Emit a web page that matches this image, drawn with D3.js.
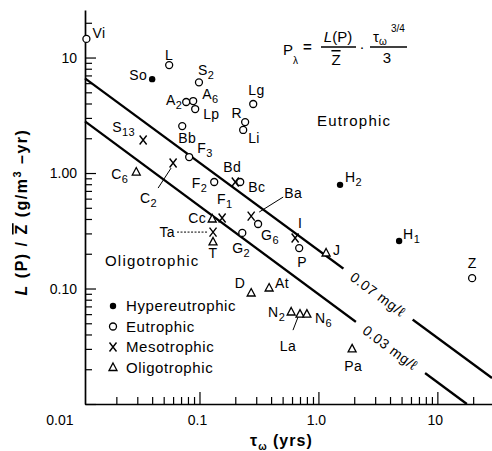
<!DOCTYPE html>
<html>
<head>
<meta charset="utf-8">
<script src="https://cdnjs.cloudflare.com/ajax/libs/d3/7.8.5/d3.min.js"></script>
<style>
body { margin: 0; background: #fff; }
svg text { font-family: "Liberation Sans", Arial, sans-serif; fill: #000; }
</style>
</head>
<body>
<div id="chart"></div>
<script>
// trophic groups, tau_w (yrs) and L(P)/Z (g/m3-yr)
var hyperNames = ["So", "H2", "H1"];
var hyperTau = [0.040, 1.52, 4.77];
var hyperLoad = [6.5, 0.79, 0.258];

var eutroNames = ["Vi", "L", "S2", "A2", "A6", "Lp", "Lg", "R", "Li", "Bb", "F3", "F2", "Bc", "G6", "G2", "P", "Z"];
var eutroTau = [0.0112, 0.0556, 0.099, 0.0773, 0.0885, 0.092, 0.283, 0.242, 0.233, 0.0716, 0.0819, 0.133, 0.22, 0.311, 0.229, 0.689, 19.6];
var eutroLoad = [14.5, 8.6, 6.1, 4.12, 4.2, 3.58, 3.96, 2.76, 2.36, 2.55, 1.375, 0.836, 0.836, 0.362, 0.303, 0.224, 0.123];

var mesoNames = ["S13", "C2", "Bd", "F1", "Ba", "Ta", "I"];
var mesoTau = [0.0336, 0.060, 0.20, 0.155, 0.272, 0.130, 0.637];
var mesoLoad = [1.93, 1.22, 0.836, 0.408, 0.424, 0.308, 0.274];

var oligoNames = ["C6", "Cc", "T", "J", "D", "At", "N2", "La", "N6", "Pa"];
var oligoTau = [0.0294, 0.128, 0.130, 1.16, 0.272, 0.385, 0.59, 0.70, 0.80, 1.92];
var oligoLoad = [1.02, 0.40, 0.253, 0.203, 0.0914, 0.101, 0.0626, 0.060, 0.060, 0.030];

// critical loading lines (end points)
var lineNames = ["0.07 mg/\u2113", "0.03 mg/\u2113"];
var lineTau = [[0.0109, 28.8], [0.0109, 17.7]];
var lineLoad = [[6.6, 0.0168], [2.8, 0.01]];

var legendNames = ["Hypereutrophic", "Eutrophic", "Mesotrophic", "Oligotrophic"];

var xTickVals = [0.01, 0.1, 1, 10];
var xTickLabels = ["0.01", "0.1", "1.0", "10"];
var yTickVals = [0.1, 1, 10];
var yTickLabels = ["0.10", "1.00", "10"];

var width = 492, height = 451;

var svg = d3.select("#chart").append("svg")
  .attr("width", width)
  .attr("height", height);

var x = d3.scaleLog().domain([0.0109, 28.8]).range([85, 492]);
var y = d3.scaleLog().domain([0.01, 25.8]).range([404, 10]);

function isMajor(v) {
  var l = Math.log10(v);
  return Math.abs(l - Math.round(l)) < 1e-6;
}

// axes, ticks pointing inwards
var gx = svg.append("g")
  .attr("transform", "translate(0,404)")
  .call(d3.axisBottom(x).tickValues(x.ticks()).tickSizeInner(-7).tickSizeOuter(0).tickFormat(""));
gx.selectAll(".tick line").attr("y2", function(d) { return isMajor(d) ? -12 : -7; });

var gy = svg.append("g")
  .attr("transform", "translate(85,0)")
  .call(d3.axisLeft(y).tickValues(y.ticks()).tickSizeInner(-7).tickSizeOuter(0).tickFormat(""));
gy.selectAll(".tick line").attr("x2", function(d) { return isMajor(d) ? 11 : 7; });

svg.selectAll(".domain").attr("stroke", "#000").attr("stroke-width", 1.7);
svg.selectAll(".tick line").attr("stroke", "#000").attr("stroke-width", 1.2);

svg.selectAll(".xlab")
  .data(xTickVals)
  .enter().append("text")
  .attr("x", function(d, i) { return i == 0 ? x(d) - 7 : x(d) - 2; })
  .attr("y", 425)
  .attr("text-anchor", function(d, i) { return i == 0 ? "end" : "middle"; })
  .style("font-size", "14px")
  .text(function(d, i) { return xTickLabels[i]; });

svg.selectAll(".ylab")
  .data(yTickVals)
  .enter().append("text")
  .attr("x", 77)
  .attr("y", function(d) { return y(d) + 5; })
  .attr("text-anchor", "end")
  .style("font-size", "14px")
  .text(function(d, i) { return yTickLabels[i]; });

// axis titles
var ylab = svg.append("text")
  .attr("transform", "translate(27,212) rotate(-90)")
  .attr("text-anchor", "middle")
  .style("font-size", "16px")
  .style("font-weight", "bold")
  .style("letter-spacing", "1.5px");
ylab.append("tspan").style("font-style", "italic").text("L");
ylab.append("tspan").text(" (P) / ");
ylab.append("tspan").style("text-decoration", "overline").text("Z");
ylab.append("tspan").text(" (g/m");
ylab.append("tspan").attr("dy", -6).style("font-size", "11px").text("3");
ylab.append("tspan").attr("dy", 6).text(" \u2013yr)");

var xlab = svg.append("text")
  .attr("x", 250)
  .attr("y", 446)
  .style("font-size", "16px")
  .style("font-weight", "bold")
  .style("letter-spacing", "1px");
xlab.append("tspan").text("\u03c4");
xlab.append("tspan").attr("dy", 4).style("font-size", "10px").text("\u03c9");
xlab.append("tspan").attr("dy", -4).text(" (yrs)");

// critical loading lines with a gap for the label
var lineLabelAt = [0.72, 0.80];
lineNames.forEach(function(name, i) {
  var x0 = x(lineTau[i][0]), y0 = y(lineLoad[i][0]);
  var x1 = x(lineTau[i][1]), y1 = y(lineLoad[i][1]);
  svg.append("line")
    .attr("x1", x0).attr("y1", y0)
    .attr("x2", x1).attr("y2", y1)
    .attr("stroke", "#000")
    .attr("stroke-width", 2.3);
  var t = lineLabelAt[i];
  var cx = x0 + (x1 - x0) * t, cy = y0 + (y1 - y0) * t;
  var ang = Math.atan2(y1 - y0, x1 - x0) * 180 / Math.PI;
  var g = svg.append("g").attr("transform", "translate(" + cx + "," + cy + ") rotate(" + ang + ")");
  g.append("rect").attr("x", -43).attr("y", -8).attr("width", 86).attr("height", 16).attr("fill", "#fff");
  g.append("text")
    .attr("text-anchor", "middle")
    .attr("dy", "0.38em")
    .style("font-size", "14px")
    .style("letter-spacing", "0.6px")
    .text(name);
});

// markers
var symbols = {
  hyper: function(g) { g.append("circle").attr("r", 3.2).attr("fill", "#000"); },
  eutro: function(g) { g.append("circle").attr("r", 3.5).attr("fill", "#fff").attr("stroke", "#000").attr("stroke-width", 1.3); },
  meso: function(g) { g.append("path").attr("d", "M-3.5,-4.5L3.5,4.5M3.5,-4.5L-3.5,4.5").attr("stroke", "#000").attr("stroke-width", 1.4).attr("fill", "none"); },
  oligo: function(g) { g.append("path").attr("d", "M0,-4.5L4,3L-4,3Z").attr("stroke", "#000").attr("stroke-width", 1.3).attr("fill", "#fff"); }
};

var labelPos = {
  So: [-5, 1, "end"], H2: [5, -3, "start"], H1: [4, -2, "start"],
  Vi: [6, -1, "start"], L: [0, -5, "middle"], S2: [-1, -7, "start"],
  A2: [-4, 3, "end"], A6: [9, -2, "start"], Lp: [8, 10, "start"],
  Lg: [-5, -9, "start"], R: [-3, -4, "end"], Li: [5, 13, "start"],
  Bb: [-4, 17, "start"], F3: [8, -4, "start"], F2: [-7, 6, "end"],
  Bc: [8, 10, "start"], G6: [3, 16, "start"], G2: [-10, 20, "start"],
  P: [3, 19, "middle"], Z: [0, -10, "middle"],
  S13: [-31, -8, "start"], C2: [-33, 40, "start"], Bd: [-12, -10, "start"],
  F1: [-5, -14, "start"], Ba: [33, -18, "start"], Ta: [-38, 5, "end"], I: [5, -10, "middle"],
  C6: [-8, 7, "end"], Cc: [-6, 4, "end"], T: [0, 16, "middle"], J: [7, 2, "start"],
  D: [-6, -5, "end"], At: [6, 0, "start"], N2: [-6, 5, "end"], La: [-12, 37, "middle"],
  N6: [8, 9, "start"], Pa: [1, 22, "middle"]
};

var leaders = {
  C2: [-2, 5, -15, 25, false],
  Ba: [8, -4, 32, -19, false],
  Ta: [-36, 0, -6, 0, true],
  La: [-7, 16, -2, 3, false]
};

function addLabel(g, name, px, py) {
  var p = labelPos[name];
  var m = name.match(/^([A-Za-z]+)(\d*)$/);
  var t = g.append("text")
    .attr("x", px + p[0])
    .attr("y", py + p[1])
    .attr("text-anchor", p[2])
    .style("font-size", "14px")
    .style("letter-spacing", "0.4px");
  t.append("tspan").text(m[1]);
  if (m[2]) t.append("tspan").attr("dy", 4).style("font-size", "11px").text(m[2]);
  var ld = leaders[name];
  if (ld) {
    g.append("line")
      .attr("x1", px + ld[0]).attr("y1", py + ld[1])
      .attr("x2", px + ld[2]).attr("y2", py + ld[3])
      .attr("stroke", "#000")
      .attr("stroke-width", 1)
      .attr("stroke-dasharray", ld[4] ? "2,1.5" : null);
  }
}

function drawGroup(names, taus, loads, kind) {
  var g = svg.append("g");
  names.forEach(function(name, i) {
    var px = x(taus[i]), py = y(loads[i]);
    var m = g.append("g").attr("transform", "translate(" + px + "," + py + ")");
    symbols[kind](m);
    addLabel(g, name, px, py);
  });
}

drawGroup(hyperNames, hyperTau, hyperLoad, "hyper");
drawGroup(eutroNames, eutroTau, eutroLoad, "eutro");
drawGroup(mesoNames, mesoTau, mesoLoad, "meso");
drawGroup(oligoNames, oligoTau, oligoLoad, "oligo");

// region labels
svg.append("text").attr("x", 317).attr("y", 126)
  .style("font-size", "15px").style("letter-spacing", "1.2px").text("Eutrophic");
svg.append("text").attr("x", 105).attr("y", 266)
  .style("font-size", "15px").style("letter-spacing", "1.2px").text("Oligotrophic");

// legend
var kinds = ["hyper", "eutro", "meso", "oligo"];
var legend = svg.append("g").attr("transform", "translate(113,306)");
legendNames.forEach(function(name, i) {
  var row = legend.append("g").attr("transform", "translate(0," + (i * 20.5) + ")");
  symbols[kinds[i]](row.append("g"));
  row.append("text")
    .attr("x", 13)
    .attr("y", 5)
    .style("font-size", "15px")
    .style("letter-spacing", "0.6px")
    .text(name);
});

// formula
var f = svg.append("g").style("font-size", "15px");
f.append("text").attr("x", 283).attr("y", 55).text("P");
f.append("text").attr("x", 293).attr("y", 64).style("font-size", "10px").text("\u03bb");
f.append("text").attr("x", 303).attr("y", 52).style("font-weight", "bold").text("=");
var num = f.append("text").attr("x", 338).attr("y", 42).attr("text-anchor", "middle");
num.append("tspan").style("font-style", "italic").text("L");
num.append("tspan").text("(P)");
f.append("line").attr("x1", 321).attr("x2", 356).attr("y1", 47).attr("y2", 47).attr("stroke", "#000").attr("stroke-width", 1.3);
f.append("text").attr("x", 336).attr("y", 65).attr("text-anchor", "middle").style("text-decoration", "overline").text("Z");
f.append("text").attr("x", 362).attr("y", 52).attr("text-anchor", "middle").text("\u00b7");
var tw = f.append("text").attr("x", 373).attr("y", 42);
tw.append("tspan").text("\u03c4");
tw.append("tspan").attr("dy", 3).style("font-size", "10px").text("\u03c9");
f.append("text").attr("x", 391).attr("y", 32).style("font-size", "10px").text("3/4");
f.append("line").attr("x1", 370).attr("x2", 407).attr("y1", 47).attr("y2", 47).attr("stroke", "#000").attr("stroke-width", 1.3);
f.append("text").attr("x", 387).attr("y", 63).attr("text-anchor", "middle").text("3");
</script>
</body>
</html>
